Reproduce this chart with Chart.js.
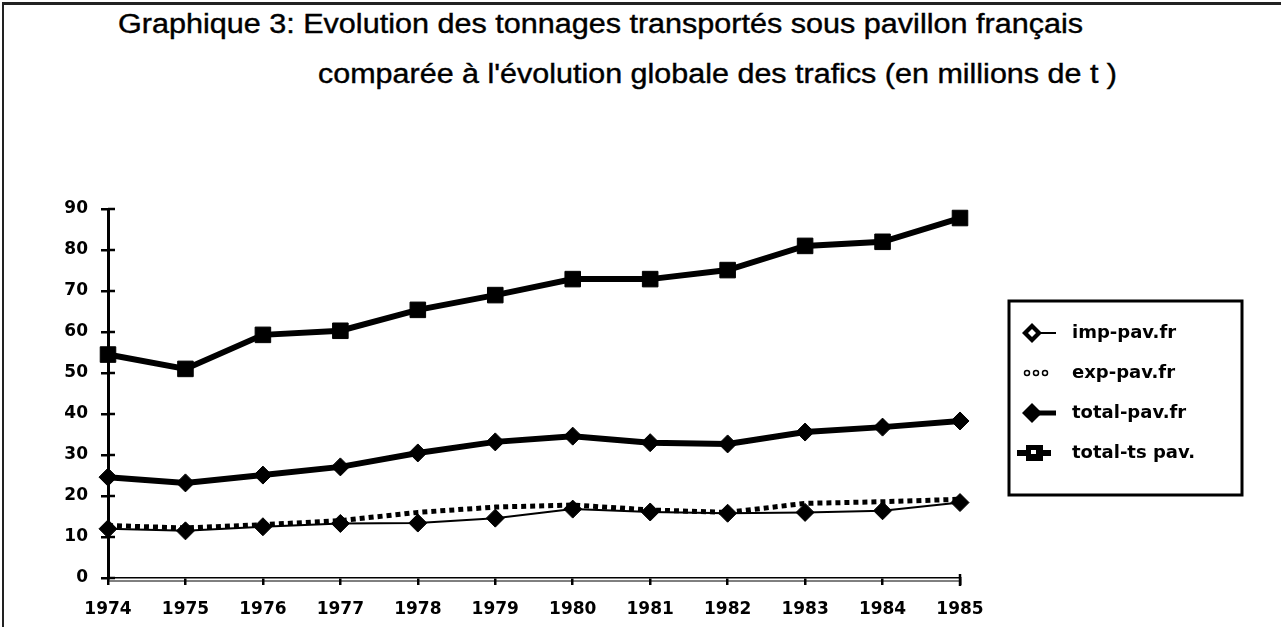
<!DOCTYPE html>
<html>
<head>
<meta charset="utf-8">
<script src="https://cdn.jsdelivr.net/npm/chart.js@4.4.0/dist/chart.umd.min.js"></script>
<style>
  body { margin: 0; background: #fff; }
  #wrap { position: relative; width: 1281px; height: 627px; overflow: hidden; background: #fff; }
  #frame { position: absolute; left: 2px; top: 2px; width: 1300px; height: 700px;
           border-top: 3px solid #222; border-left: 2px solid #222; }
  .t { position: absolute; font-family: "Liberation Sans", Arial, sans-serif; font-size: 27px;
       line-height: 27px; color: #000; white-space: nowrap; transform-origin: 0 0;
       -webkit-text-stroke: 0.4px #000; }
  canvas { position: absolute; left: 0; top: 0; }
</style>
</head>
<body>
<div id="wrap">
  <div id="frame"></div>
  <div id="t1" class="t" style="left:118px;top:11px">Graphique 3: Evolution des tonnages transportés sous pavillon français</div>
  <div id="t2" class="t" style="left:318px;top:61px">comparée à l'évolution globale des trafics (en millions de t )</div>
  <canvas id="chart" width="1281" height="627"></canvas>
</div>
<script>
// data (millions de t)
const years = ['1974', '1975', '1976', '1977', '1978', '1979', '1980', '1981', '1982', '1983', '1984', '1985'];
const impPavFr   = [12, 11.5, 12.5, 13.3, 13.4, 14.6, 16.8, 16.1, 15.8, 16, 16.4, 18.4];
const expPavFr   = [12.8, 12.2, 13, 14, 16, 17.3, 17.8, 16.6, 16, 18.2, 18.6, 19.2];
const totalPavFr = [24.6, 23.2, 25.1, 27.1, 30.5, 33.2, 34.6, 33, 32.7, 35.6, 36.8, 38.3];
const totalTsPav = [54.5, 51, 59.3, 60.3, 65.4, 69, 72.9, 72.9, 75.1, 81, 82, 87.8];
const seriesNames = ['imp-pav.fr', 'exp-pav.fr', 'total-pav.fr', 'total-ts pav.'];
const yTicks = [0, 10, 20, 30, 40, 50, 60, 70, 80, 90];

// stretch title lines to the width they have in the scan
function fitWidth(id, w) {
  const el = document.getElementById(id);
  el.style.transform = 'scaleX(' + (w / el.getBoundingClientRect().width) + ')';
}
fitWidth('t1', 965);
fitWidth('t2', 799);

// small legend icons (line + marker)
function icon(draw) {
  const c = document.createElement('canvas');
  c.width = 50; c.height = 24;
  const g = c.getContext('2d');
  g.fillStyle = '#000'; g.strokeStyle = '#000';
  draw(g);
  return c;
}
function diamond(g, x, y, r) {
  g.beginPath();
  g.moveTo(x - r, y); g.lineTo(x, y - r); g.lineTo(x + r, y); g.lineTo(x, y + r);
  g.closePath();
}
const legendIcons = [
  icon(g => {
    g.lineWidth = 2; g.beginPath(); g.moveTo(20, 12); g.lineTo(43, 12); g.stroke();
    diamond(g, 19, 12, 10); g.fill();
    g.fillStyle = '#fff'; diamond(g, 19, 12, 4); g.fill();
  }),
  icon(g => {
    g.lineWidth = 1.5;
    [14, 23, 32].forEach(x => { g.beginPath(); g.arc(x, 12, 2.5, 0, Math.PI * 2); g.stroke(); });
  }),
  icon(g => {
    g.lineWidth = 5; g.beginPath(); g.moveTo(20, 12); g.lineTo(43, 12); g.stroke();
    diamond(g, 19, 12, 10); g.fill();
  }),
  icon(g => {
    g.lineWidth = 6; g.beginPath(); g.moveTo(4, 12); g.lineTo(38, 12); g.stroke();
    g.fillRect(13, 4, 17, 16);
    g.fillStyle = '#fff'; g.fillRect(18, 9, 5, 4);
  })
];

// y ticks cross the axis on both sides, x axis drawn as a double line
const axisMarks = {
  id: 'axisMarks',
  afterDatasetsDraw(chart) {
    const y = chart.scales.y, ctx = chart.ctx;
    ctx.save();
    ctx.strokeStyle = '#000';
    ctx.lineWidth = 2.5;
    y.ticks.forEach(t => {
      const py = y.getPixelForValue(t.value);
      ctx.beginPath(); ctx.moveTo(y.right, py); ctx.lineTo(y.right + 7, py); ctx.stroke();
    });
    const x = chart.scales.x;
    ctx.lineWidth = 1;
    ctx.beginPath(); ctx.moveTo(x.left, x.top + 3); ctx.lineTo(x.right, x.top + 3); ctx.stroke();
    ctx.lineWidth = 2.5;
    ctx.beginPath(); ctx.moveTo(x.right, x.top - 4); ctx.lineTo(x.right, x.top + 8); ctx.stroke();
    ctx.restore();
  }
};

// put the legend in its framed box at the right
const legendBox = {
  id: 'legendBox',
  afterLayout(chart) {
    const l = chart.legend;
    l.left = 991; l.right = 1242; l.width = 251;
    l.top = 291; l.bottom = 495; l.height = 204;
  },
  afterDraw(chart) {
    const ctx = chart.ctx;
    ctx.save();
    ctx.strokeStyle = '#000';
    ctx.lineWidth = 3;
    ctx.strokeRect(1009, 301, 233, 194);
    ctx.restore();
  }
};

const tickFont = { family: 'DejaVu Sans', weight: 'bold', size: 17 };

const ctx = document.getElementById('chart').getContext('2d');
const chart = new Chart(ctx, {
  type: 'line',
  data: {
    labels: years,
    datasets: [
      {
        label: seriesNames[0],
        data: impPavFr,
        borderColor: '#000',
        borderWidth: 2,
        pointStyle: 'rectRot',
        pointRadius: 9,
        pointBackgroundColor: '#000',
        pointBorderColor: '#000',
        pointBorderWidth: 1,
        tension: 0,
        clip: false
      },
      {
        label: seriesNames[1],
        data: expPavFr,
        borderColor: '#000',
        borderWidth: 5,
        borderDash: [5, 4],
        pointRadius: 0,
        tension: 0,
        clip: false
      },
      {
        label: seriesNames[2],
        data: totalPavFr,
        borderColor: '#000',
        borderWidth: 6,
        pointStyle: 'rectRot',
        pointRadius: 9,
        pointBackgroundColor: '#000',
        pointBorderColor: '#000',
        pointBorderWidth: 1,
        tension: 0,
        clip: false
      },
      {
        label: seriesNames[3],
        data: totalTsPav,
        borderColor: '#000',
        borderWidth: 6,
        pointStyle: 'rect',
        pointRadius: 11,
        pointBackgroundColor: '#000',
        pointBorderColor: '#000',
        pointBorderWidth: 1,
        tension: 0,
        clip: false
      }
    ]
  },
  options: {
    responsive: false,
    animation: false,
    layout: { padding: { left: 0, top: 209, right: 321, bottom: 0 } },
    plugins: {
      title: { display: false },
      tooltip: { enabled: false },
      legend: {
        display: true,
        position: 'chartArea',
        labels: {
          usePointStyle: true,
          pointStyleWidth: 50,
          padding: 22,
          color: '#000',
          font: { family: 'DejaVu Sans', weight: 'bold', size: 18 },
          generateLabels: () => seriesNames.map((name, i) => ({
            text: name,
            pointStyle: legendIcons[i],
            datasetIndex: i,
            fontColor: '#000',
            lineWidth: 0,
            hidden: false
          }))
        }
      }
    },
    scales: {
      x: {
        offset: false,
        afterFit: s => { s.height = 49; },
        border: { display: true, color: '#000', width: 1.5 },
        grid: { drawOnChartArea: false, tickLength: 7, color: '#000', lineWidth: 2.5 },
        ticks: { color: '#000', padding: 14, maxRotation: 0, font: tickFont }
      },
      y: {
        min: 0,
        max: 90,
        afterFit: s => { s.width = 108; },
        afterBuildTicks: s => { s.ticks = yTicks.map(v => ({ value: v })); },
        border: { display: true, color: '#000', width: 3 },
        grid: { drawOnChartArea: false, tickLength: 7, color: '#000', lineWidth: 2.5 },
        ticks: { color: '#000', padding: 13, font: tickFont }
      }
    }
  },
  plugins: [axisMarks, legendBox]
});
</script>
</body>
</html>
